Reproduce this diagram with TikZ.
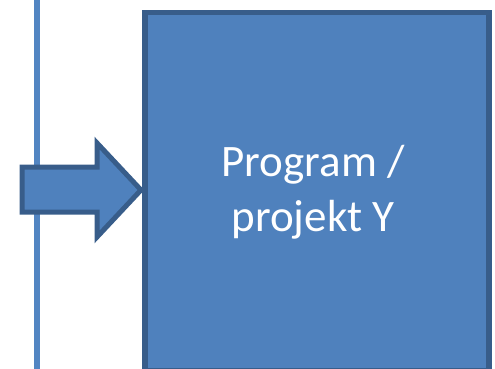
\documentclass[tikz,border=0pt]{standalone}
\usepackage{fontspec}
\setmainfont{Carlito}
\definecolor{fillblue}{HTML}{4F81BD}
\definecolor{edgeblue}{HTML}{385D8A}
\definecolor{lineblue}{HTML}{5285C2}
\begin{document}
\begin{tikzpicture}[x=1pt,y=-1pt,
  vline/.style={draw=lineblue,line width=5.5pt},
  blockarrow/.style={fill=fillblue,draw=edgeblue,line width=5pt,line join=miter},
  bigbox/.style={fill=fillblue,draw=edgeblue,line width=5.5pt},
  label/.style={text=white,font=\fontsize{45}{55}\selectfont,align=center,inner sep=0pt}]
\useasboundingbox (0,0) rectangle (495,369);
\coordinate (ltop) at (37,-2);
\coordinate (lbot) at (37,371);
\draw[vline] (ltop) -- (lbot);
\draw[blockarrow] (22,167) -- (97,167) -- (97,143) -- (141,190) -- (97,237) -- (97,212) -- (22,212) -- cycle;
\node[bigbox,minimum width=344pt,minimum height=357.5pt,anchor=north west,inner sep=0pt] (box) at (142,10) {};
\node[label] (txt) at (313,192) {Program /\\projekt Y};
\end{tikzpicture}
\end{document}
